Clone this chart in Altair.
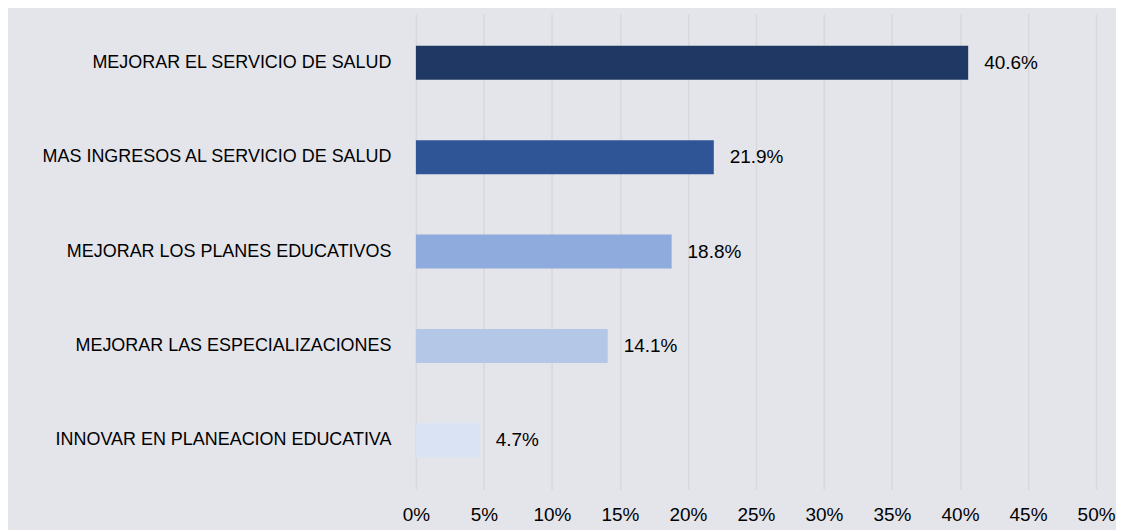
import altair as alt
import pandas as pd

categories = [
    "MEJORAR EL SERVICIO DE SALUD",
    "MAS INGRESOS AL SERVICIO DE SALUD",
    "MEJORAR LOS PLANES EDUCATIVOS",
    "MEJORAR LAS ESPECIALIZACIONES",
    "INNOVAR EN PLANEACION EDUCATIVA",
]
values = [0.406, 0.219, 0.188, 0.141, 0.047]
colors = ["#203864", "#2F5597", "#8FAADC", "#B4C7E7", "#DAE3F3"]
x_ticks = [0, 0.05, 0.10, 0.15, 0.20, 0.25, 0.30, 0.35, 0.40, 0.45, 0.50]

df = pd.DataFrame({"cat": categories, "val": values, "color": colors})
df["label"] = [f"{v*100:.1f}%" for v in values]

FONT = "Liberation Sans"

base = alt.Chart(df).encode(
    y=alt.Y("cat:N", sort=categories, title=None,
            scale=alt.Scale(paddingInner=0.64, paddingOuter=0.34),
            axis=alt.Axis(domain=False, ticks=False, labelFont=FONT, labelFontSize=18,
                          labelColor="#000000", labelPadding=25, labelLimit=420)),
)

bars = base.mark_bar().encode(
    x=alt.X("val:Q", title=None,
            scale=alt.Scale(domain=[0, 0.5], nice=False),
            axis=alt.Axis(values=x_ticks, format=".0%", domain=False, ticks=False,
                          grid=True, gridColor="#D9D9D9", gridWidth=1.5,
                          labelFont=FONT, labelFontSize=19, labelColor="#000000",
                          labelPadding=16, labelFlush=False)),
    color=alt.Color("color:N", scale=None),
)

text = base.mark_text(align="left", dx=16, font=FONT, fontSize=19, color="#000000").encode(
    x="val:Q",
    text="label:N",
)

chart = (bars + text).properties(
    width=682, height=477,
    autosize=alt.AutoSizeParams(type="none"),
    padding={"left": 409, "top": 5, "right": 20, "bottom": 40},
    background="#E4E4EB",
).configure_view(stroke=None)

chart.save("out.html", embed_options={"renderer": "svg", "actions": False})
